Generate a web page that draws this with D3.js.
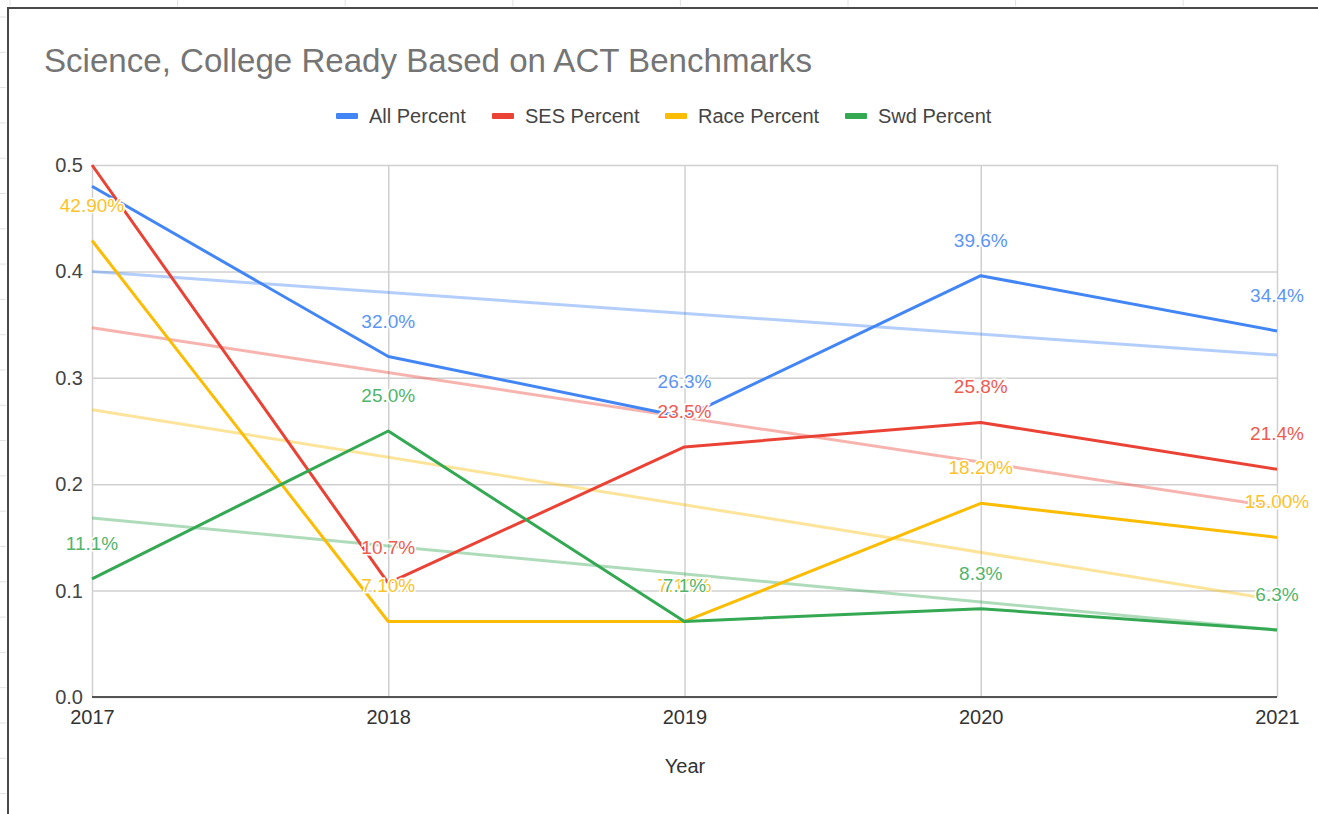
<!DOCTYPE html>
<html lang="en">
  <head>
    <meta charset="UTF-8" />
    <title>Science, College Ready Based on ACT Benchmarks</title>
    <script src="https://cdn.jsdelivr.net/npm/d3@7"></script>
    <style>
      html,
      body {
        margin: 0;
        padding: 0;
        background: #fff;
      }
      svg {
        display: block;
        font-family: 'Liberation Sans', Arial, sans-serif;
      }
    </style>
  </head>
  <body>
    <svg width="1318" height="814"></svg>
    <script>
      const years = [2017, 2018, 2019, 2020, 2021];
      const yTicks = [0, 0.1, 0.2, 0.3, 0.4, 0.5];

      const allPct = [0.48, 0.32, 0.263, 0.396, 0.344];
      const sesPct = [0.5, 0.107, 0.235, 0.258, 0.214];
      const racePct = [0.429, 0.071, 0.071, 0.182, 0.15];
      const swdPct = [0.111, 0.25, 0.071, 0.083, 0.063];

      // labels as shown in the sheet (null = hidden by the chart)
      const allLabels = [null, '32.0%', '26.3%', '39.6%', '34.4%'];
      const sesLabels = [null, '10.7%', '23.5%', '25.8%', '21.4%'];
      const raceLabels = ['42.90%', '7.10%', '7.10%', '18.20%', '15.00%'];
      const swdLabels = ['11.1%', '25.0%', '7.1%', '8.3%', '6.3%'];

      const seriesNames = ['All Percent', 'SES Percent', 'Race Percent', 'Swd Percent'];
      const seriesColors = ['#4285f4', '#ea4335', '#fbbc04', '#34a853'];
      const labelColors = ['#5c95f5', '#ee5b50', '#fcc22a', '#52b46d'];

      const series = [
        { name: seriesNames[0], values: allPct, labels: allLabels },
        { name: seriesNames[1], values: sesPct, labels: sesLabels },
        { name: seriesNames[2], values: racePct, labels: raceLabels },
        { name: seriesNames[3], values: swdPct, labels: swdLabels },
      ];
      series.forEach((s, i) => {
        s.color = seriesColors[i];
        s.labelColor = labelColors[i];
      });

      const svg = d3.select('svg');

      // spreadsheet cells peeking around the chart
      const bg = svg.append('g').attr('stroke', '#e2e2e2');
      d3.range(10, 1318, 167.6).forEach(x => {
        bg.append('line').attr('x1', x).attr('x2', x).attr('y1', 0).attr('y2', 6);
      });
      d3.range(17, 814, 35.3).forEach(y => {
        bg.append('line').attr('x1', 0).attr('x2', 6).attr('y1', y).attr('y2', y);
      });

      svg
        .append('path')
        .attr('d', 'M8,814 V8 H1318')
        .attr('fill', 'none')
        .attr('stroke', '#4a4a4a')
        .attr('stroke-width', 2);

      const x = d3.scaleLinear().domain([2017, 2021]).range([92, 1277]);
      const y = d3.scaleLinear().domain([0, 0.5]).range([697, 165]);

      // title
      svg
        .append('text')
        .attr('x', 44)
        .attr('y', 72)
        .attr('fill', '#757575')
        .attr('font-size', 33.1)
        .text('Science, College Ready Based on ACT Benchmarks');

      // legend
      const legendX = [336, 492, 665, 845];
      const legend = svg
        .append('g')
        .selectAll('g')
        .data(series)
        .join('g')
        .attr('transform', (d, i) => `translate(${legendX[i]},116)`);
      legend
        .append('rect')
        .attr('x', 0)
        .attr('y', -3)
        .attr('width', 22)
        .attr('height', 6)
        .attr('rx', 1)
        .attr('fill', d => d.color);
      legend
        .append('text')
        .attr('x', 33)
        .attr('y', 7)
        .attr('font-size', 20)
        .attr('fill', '#444')
        .text(d => d.name);

      // grid
      svg
        .append('g')
        .call(
          d3
            .axisLeft(y)
            .tickValues(yTicks)
            .tickSize(-(1277 - 92))
            .tickFormat(d3.format('.1f'))
        )
        .attr('transform', 'translate(92,0)')
        .call(g => g.select('.domain').remove())
        .call(g => g.selectAll('line').attr('stroke', '#d0d0d0').attr('stroke-width', 1.5))
        .call(g =>
          g
            .selectAll('text')
            .attr('x', -9)
            .attr('font-size', 20)
            .attr('fill', '#444')
            .attr('font-family', 'Liberation Sans, Arial, sans-serif')
        );

      svg
        .append('g')
        .attr('transform', 'translate(0,697)')
        .call(
          d3
            .axisBottom(x)
            .tickValues(years)
            .tickSize(-(697 - 165))
            .tickFormat(d3.format('d'))
        )
        .call(g => g.select('.domain').remove())
        .call(g => g.selectAll('line').attr('stroke', '#d0d0d0').attr('stroke-width', 1.5))
        .call(g =>
          g
            .selectAll('text')
            .attr('y', 13)
            .attr('font-size', 20)
            .attr('fill', '#333')
            .attr('font-family', 'Liberation Sans, Arial, sans-serif')
        );

      // baseline
      svg
        .append('line')
        .attr('x1', x(2017))
        .attr('x2', x(2021))
        .attr('y1', y(0))
        .attr('y2', y(0))
        .attr('stroke', '#555')
        .attr('stroke-width', 2);

      svg
        .append('text')
        .attr('x', 685)
        .attr('y', 773)
        .attr('text-anchor', 'middle')
        .attr('font-size', 20)
        .attr('fill', '#333')
        .text('Year');

      // linear trendlines (least squares on each series)
      function trend(values) {
        const mx = d3.mean(years);
        const my = d3.mean(values);
        const sxy = d3.sum(years, (yr, i) => (yr - mx) * (values[i] - my));
        const sxx = d3.sum(years, yr => (yr - mx) * (yr - mx));
        const b = sxy / sxx;
        return [years[0], years[years.length - 1]].map(yr => [yr, my + b * (yr - mx)]);
      }

      svg
        .append('g')
        .selectAll('path')
        .data(series)
        .join('path')
        .attr('d', d => d3.line().x(p => x(p[0])).y(p => y(p[1]))(trend(d.values)))
        .attr('fill', 'none')
        .attr('stroke', d => d.color)
        .attr('stroke-opacity', 0.4)
        .attr('stroke-width', 3);

      const line = d3
        .line()
        .x((v, i) => x(years[i]))
        .y(v => y(v));

      svg
        .append('g')
        .selectAll('path')
        .data(series)
        .join('path')
        .attr('d', d => line(d.values))
        .attr('fill', 'none')
        .attr('stroke', d => d.color)
        .attr('stroke-width', 3)
        .attr('stroke-linejoin', 'round');

      // data labels
      const labelG = svg.append('g').attr('font-size', 19).attr('text-anchor', 'middle');
      series.forEach(s => {
        s.values.forEach((v, i) => {
          if (!s.labels[i]) return;
          labelG
            .append('text')
            .attr('x', x(years[i]))
            .attr('y', y(v) - 36 + 7)
            .attr('fill', s.labelColor)
            .attr('stroke', '#fff')
            .attr('stroke-width', 3)
            .attr('paint-order', 'stroke')
            .text(s.labels[i]);
        });
      });
    </script>
  </body>
</html>
